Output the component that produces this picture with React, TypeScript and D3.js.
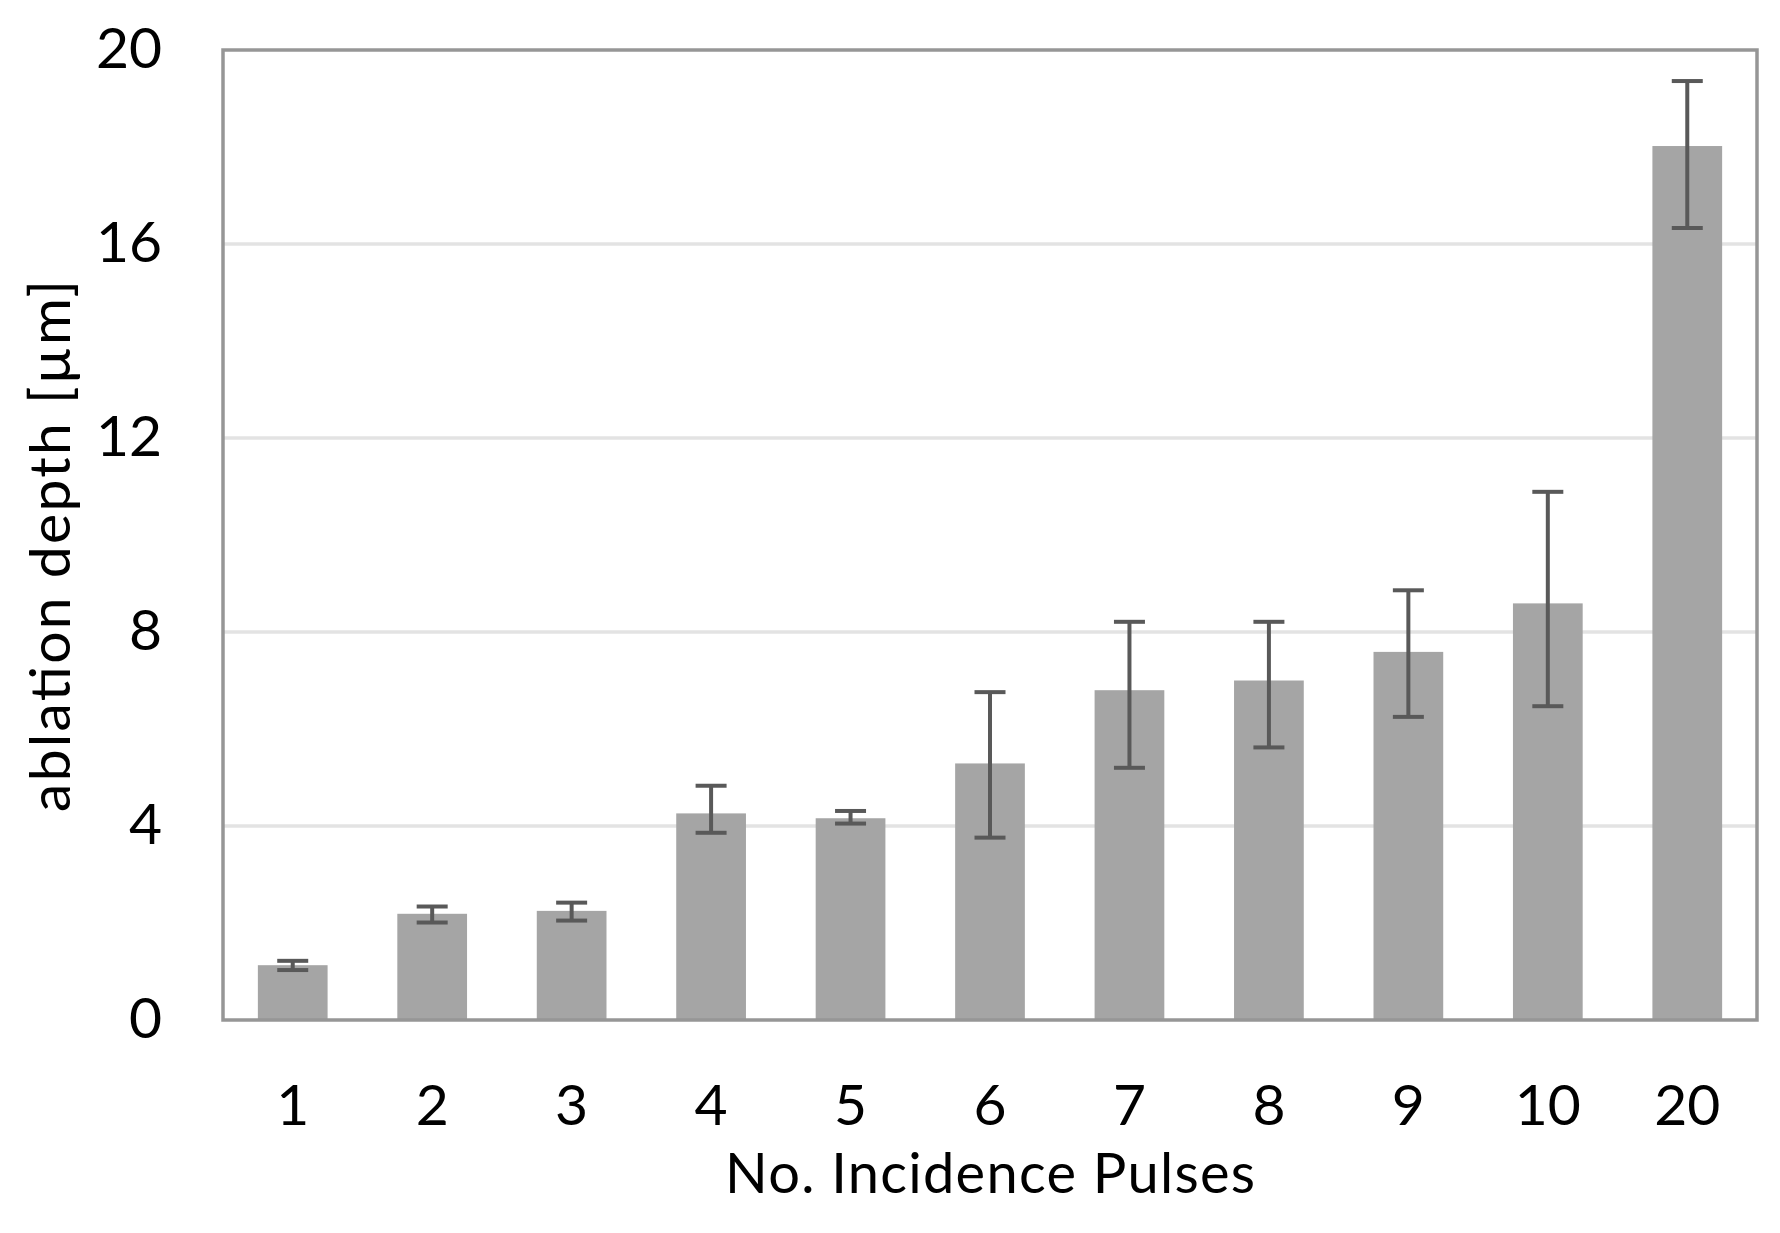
import React from "react";
import * as d3 from "d3";

const categories: string[] = ["1", "2", "3", "4", "5", "6", "7", "8", "9", "10", "20"];
const depthValues: number[] = [1.13, 2.19, 2.25, 4.26, 4.16, 5.29, 6.8, 7.0, 7.59, 8.59, 18.02];
const errorUpper: number[] = [1.22, 2.34, 2.42, 4.83, 4.31, 6.76, 8.21, 8.21, 8.86, 10.89, 19.36];
const errorLower: number[] = [1.03, 2.01, 2.05, 3.86, 4.05, 3.76, 5.2, 5.62, 6.25, 6.47, 16.33];
const yTicks: number[] = [0, 4, 8, 12, 16, 20];
const gridTicks: number[] = [4, 8, 12, 16];

const W = 1780;
const H = 1233;
const M = { left: 223, right: 1757, top: 50, bottom: 1020 };
const FONT = "Lato, 'Open Sans', sans-serif";

export default function App() {
  const x = d3
    .scaleBand<string>()
    .domain(categories)
    .range([M.left, M.right])
    .paddingInner(0.5)
    .paddingOuter(0.25);
  const y = d3.scaleLinear().domain([0, 20]).range([M.bottom, M.top]);
  const bw = x.bandwidth();
  const capW = 31;

  return (
    <svg
      width={W}
      height={H}
      viewBox={`0 0 ${W} ${H}`}
      style={{ position: "absolute", left: 0, top: 0, background: "#fff" }}
    >
      <rect x={0} y={0} width={W} height={H} fill="#fff" />
      {gridTicks.map((t) => (
        <line
          key={"g" + t}
          x1={M.left}
          x2={M.right}
          y1={y(t)}
          y2={y(t)}
          stroke="#e3e3e3"
          strokeWidth={3.5}
        />
      ))}
      {categories.map((c, i) => (
        <rect
          key={"b" + c}
          x={x(c)!}
          y={y(depthValues[i])}
          width={bw}
          height={y(0) - y(depthValues[i])}
          fill="#a5a5a5"
        />
      ))}
      {categories.map((c, i) => {
        const cx = x(c)! + bw / 2;
        return (
          <g key={"e" + c} stroke="#595959" strokeWidth={4}>
            <line x1={cx} x2={cx} y1={y(errorUpper[i])} y2={y(errorLower[i])} />
            <line x1={cx - capW / 2} x2={cx + capW / 2} y1={y(errorUpper[i])} y2={y(errorUpper[i])} />
            <line x1={cx - capW / 2} x2={cx + capW / 2} y1={y(errorLower[i])} y2={y(errorLower[i])} />
          </g>
        );
      })}
      <rect
        x={M.left}
        y={M.top}
        width={M.right - M.left}
        height={M.bottom - M.top}
        fill="none"
        stroke="#969696"
        strokeWidth={3.5}
      />
      {yTicks.map((t) => (
        <text
          key={"yt" + t}
          x={162}
          y={y(t) + 18}
          textAnchor="end"
          fontFamily={FONT}
          fontSize={57}
          fill="#000"
        >
          {t}
        </text>
      ))}
      {categories.map((c) => (
        <text
          key={"xt" + c}
          x={x(c)! + bw / 2}
          y={1125}
          textAnchor="middle"
          fontFamily={FONT}
          fontSize={57}
          fill="#000"
        >
          {c}
        </text>
      ))}
      <text
        x={(M.left + M.right) / 2}
        y={1193}
        textAnchor="middle"
        fontFamily={FONT}
        fontSize={56}
        textLength={530}
        lengthAdjust="spacing"
        fill="#000"
      >
        No. Incidence Pulses
      </text>
      <text
        transform={`translate(70, 546) rotate(-90)`}
        textAnchor="middle"
        fontFamily={FONT}
        fontSize={57}
        textLength={532}
        lengthAdjust="spacing"
        fill="#000"
      >
        ablation depth [µm]
      </text>
    </svg>
  );
}
